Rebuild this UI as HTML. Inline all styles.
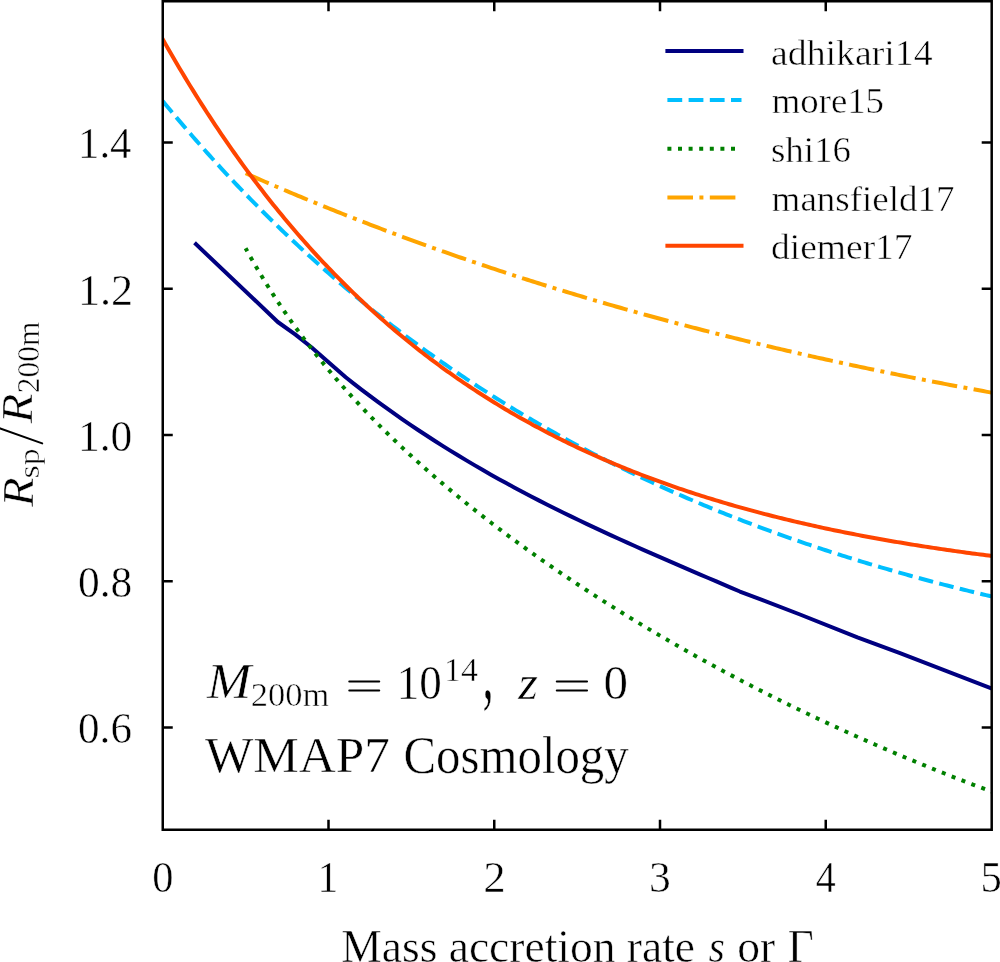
<!DOCTYPE html>
<html><head><meta charset="utf-8"><style>
html,body{margin:0;padding:0;background:#fff;overflow:hidden;}
svg{display:block;font-kerning:none;will-change:transform;}
text{font-kerning:none;}
.t{stroke:#fff;stroke-width:0.5px;}
</style></head><body>
<svg width="1000" height="962" viewBox="0 0 1000 962">
<rect width="1000" height="962" fill="#fff"/>
<defs><clipPath id="cp"><rect x="162.75" y="1.25" width="828.95" height="828.5"/></clipPath></defs>
<g clip-path="url(#cp)" fill="none" stroke-width="4" stroke-linejoin="round">
<path d="M196.00,244.20 L277.80,322.00 L295.50,334.60 L311.40,347.20 L345.70,377.30 L353.74,383.62 L361.79,389.82 L369.83,395.90 L377.88,401.87 L385.92,407.71 L393.97,413.44 L402.01,419.07 L410.06,424.58 L418.10,429.99 L426.15,435.29 L434.19,440.50 L442.24,445.61 L450.28,450.63 L458.33,455.55 L466.37,460.39 L474.42,465.14 L482.46,469.80 L490.51,474.39 L498.55,478.90 L506.60,483.33 L514.64,487.69 L522.69,491.98 L530.73,496.21 L538.78,500.37 L546.82,504.46 L554.87,508.50 L562.91,512.49 L570.96,516.42 L579.00,520.30 L587.05,524.13 L595.09,527.92 L603.14,531.66 L611.18,535.37 L619.23,539.04 L627.27,542.67 L635.32,546.28 L643.36,549.85 L651.41,553.40 L659.45,556.93 L667.50,560.43 L675.54,563.92 L683.59,567.39 L691.63,570.85 L699.68,574.31 L707.72,577.75 L715.77,581.19 L723.81,584.63 L731.86,588.07 L739.90,591.51 L800.00,614.50 L857.40,637.40 L900.00,653.20 L991.50,688.50" stroke="#000080" stroke-linecap="square"/>
<path d="M162.75,101.04 L165.51,104.40 L168.28,107.73 L171.04,111.05 L173.80,114.36 L176.56,117.64 L179.32,120.90 L182.09,124.15 L184.85,127.38 L187.61,130.59 L190.38,133.79 L193.14,136.97 L195.90,140.13 L198.66,143.27 L201.43,146.39 L204.19,149.50 L206.95,152.59 L209.71,155.67 L212.47,158.73 L215.24,161.77 L218.00,164.79 L220.76,167.80 L223.53,170.79 L226.29,173.77 L229.05,176.72 L231.81,179.67 L234.57,182.59 L237.34,185.50 L240.10,188.40 L242.86,191.28 L245.62,194.14 L248.39,196.99 L251.15,199.82 L253.91,202.64 L256.68,205.44 L259.44,208.22 L262.20,210.99 L264.96,213.75 L267.73,216.49 L270.49,219.21 L273.25,221.92 L276.01,224.62 L278.77,227.30 L281.54,229.97 L284.30,232.62 L287.06,235.25 L289.82,237.88 L292.59,240.48 L295.35,243.08 L298.11,245.66 L300.88,248.22 L303.64,250.78 L306.40,253.31 L309.16,255.84 L311.93,258.35 L314.69,260.84 L317.45,263.33 L320.21,265.79 L322.98,268.25 L325.74,270.69 L328.50,273.12 L331.26,275.54 L334.02,277.94 L336.79,280.33 L339.55,282.70 L342.31,285.07 L345.08,287.42 L347.84,289.76 L350.60,292.08 L353.36,294.39 L356.12,296.69 L358.89,298.98 L361.65,301.25 L364.41,303.51 L367.18,305.76 L369.94,308.00 L372.70,310.22 L375.46,312.44 L378.23,314.64 L380.99,316.83 L383.75,319.00 L386.51,321.17 L389.27,323.32 L392.04,325.46 L394.80,327.59 L397.56,329.71 L400.32,331.81 L403.09,333.91 L405.85,335.99 L408.61,338.06 L411.38,340.12 L414.14,342.17 L416.90,344.21 L419.66,346.24 L422.43,348.25 L425.19,350.26 L427.95,352.25 L430.71,354.24 L433.48,356.21 L436.24,358.17 L439.00,360.12 L441.76,362.06 L444.52,363.99 L447.29,365.91 L450.05,367.82 L452.81,369.71 L455.57,371.60 L458.34,373.48 L461.10,375.34 L463.86,377.20 L466.62,379.05 L469.39,380.88 L472.15,382.71 L474.91,384.53 L477.68,386.33 L480.44,388.13 L483.20,389.92 L485.96,391.69 L488.72,393.46 L491.49,395.22 L494.25,396.97 L497.01,398.70 L499.77,400.43 L502.54,402.15 L505.30,403.86 L508.06,405.56 L510.82,407.25 L513.59,408.94 L516.35,410.61 L519.11,412.27 L521.88,413.93 L524.64,415.57 L527.40,417.21 L530.16,418.84 L532.92,420.46 L535.69,422.07 L538.45,423.67 L541.21,425.26 L543.97,426.84 L546.74,428.42 L549.50,429.99 L552.26,431.54 L555.02,433.09 L557.79,434.63 L560.55,436.17 L563.31,437.69 L566.08,439.21 L568.84,440.71 L571.60,442.21 L574.36,443.70 L577.12,445.19 L579.89,446.66 L582.65,448.13 L585.41,449.59 L588.17,451.04 L590.94,452.48 L593.70,453.91 L596.46,455.34 L599.23,456.76 L601.99,458.17 L604.75,459.58 L607.51,460.97 L610.28,462.36 L613.04,463.74 L615.80,465.11 L618.56,466.48 L621.33,467.84 L624.09,469.19 L626.85,470.53 L629.61,471.87 L632.38,473.20 L635.14,474.52 L637.90,475.83 L640.66,477.14 L643.42,478.44 L646.19,479.73 L648.95,481.02 L651.71,482.30 L654.48,483.57 L657.24,484.84 L660.00,486.09 L662.76,487.34 L665.52,488.59 L668.29,489.83 L671.05,491.06 L673.81,492.28 L676.58,493.50 L679.34,494.71 L682.10,495.91 L684.86,497.11 L687.62,498.30 L690.39,499.49 L693.15,500.66 L695.91,501.83 L698.67,503.00 L701.44,504.16 L704.20,505.31 L706.96,506.46 L709.73,507.60 L712.49,508.73 L715.25,509.86 L718.01,510.98 L720.77,512.09 L723.54,513.20 L726.30,514.31 L729.06,515.40 L731.82,516.49 L734.59,517.58 L737.35,518.66 L740.11,519.73 L742.88,520.80 L745.64,521.86 L748.40,522.91 L751.16,523.96 L753.92,525.01 L756.69,526.05 L759.45,527.08 L762.21,528.11 L764.98,529.13 L767.74,530.14 L770.50,531.15 L773.26,532.16 L776.02,533.16 L778.79,534.15 L781.55,535.14 L784.31,536.12 L787.08,537.10 L789.84,538.07 L792.60,539.04 L795.36,540.00 L798.12,540.96 L800.89,541.91 L803.65,542.85 L806.41,543.79 L809.17,544.73 L811.94,545.66 L814.70,546.59 L817.46,547.51 L820.23,548.42 L822.99,549.33 L825.75,550.24 L828.51,551.14 L831.27,552.03 L834.04,552.92 L836.80,553.81 L839.56,554.69 L842.32,555.57 L845.09,556.44 L847.85,557.30 L850.61,558.17 L853.38,559.02 L856.14,559.88 L858.90,560.72 L861.66,561.57 L864.42,562.40 L867.19,563.24 L869.95,564.07 L872.71,564.89 L875.48,565.71 L878.24,566.53 L881.00,567.34 L883.76,568.15 L886.52,568.95 L889.29,569.75 L892.05,570.54 L894.81,571.33 L897.58,572.12 L900.34,572.90 L903.10,573.67 L905.86,574.45 L908.62,575.21 L911.39,575.98 L914.15,576.74 L916.91,577.49 L919.67,578.24 L922.44,578.99 L925.20,579.73 L927.96,580.47 L930.72,581.21 L933.49,581.94 L936.25,582.67 L939.01,583.39 L941.77,584.11 L944.54,584.82 L947.30,585.53 L950.06,586.24 L952.83,586.95 L955.59,587.65 L958.35,588.34 L961.11,589.03 L963.88,589.72 L966.64,590.41 L969.40,591.09 L972.16,591.76 L974.93,592.44 L977.69,593.11 L980.45,593.77 L983.21,594.44 L985.98,595.09 L988.74,595.75 L991.50,596.40" stroke="#00BFFF" stroke-linecap="butt" stroke-dasharray="14.7674 6.3859" stroke-dashoffset="0.0"/>
<path d="M245.62,248.27 L248.39,253.26 L251.15,258.17 L253.91,262.99 L256.68,267.74 L259.44,272.41 L262.20,277.01 L264.96,281.53 L267.73,285.99 L270.49,290.38 L273.25,294.70 L276.01,298.95 L278.77,303.15 L281.54,307.28 L284.30,311.36 L287.06,315.38 L289.82,319.34 L292.59,323.25 L295.35,327.11 L298.11,330.92 L300.88,334.68 L303.64,338.38 L306.40,342.05 L309.16,345.66 L311.93,349.24 L314.69,352.76 L317.45,356.25 L320.21,359.70 L322.98,363.10 L325.74,366.47 L328.50,369.80 L331.26,373.10 L334.02,376.35 L336.79,379.58 L339.55,382.77 L342.31,385.92 L345.08,389.04 L347.84,392.14 L350.60,395.20 L353.36,398.23 L356.12,401.23 L358.89,404.20 L361.65,407.15 L364.41,410.07 L367.18,412.96 L369.94,415.83 L372.70,418.67 L375.46,421.48 L378.23,424.28 L380.99,427.04 L383.75,429.79 L386.51,432.51 L389.27,435.21 L392.04,437.89 L394.80,440.55 L397.56,443.19 L400.32,445.80 L403.09,448.40 L405.85,450.98 L408.61,453.54 L411.38,456.08 L414.14,458.60 L416.90,461.11 L419.66,463.59 L422.43,466.06 L425.19,468.51 L427.95,470.95 L430.71,473.37 L433.48,475.77 L436.24,478.16 L439.00,480.54 L441.76,482.89 L444.52,485.24 L447.29,487.57 L450.05,489.88 L452.81,492.18 L455.57,494.47 L458.34,496.74 L461.10,499.00 L463.86,501.24 L466.62,503.48 L469.39,505.70 L472.15,507.91 L474.91,510.10 L477.68,512.29 L480.44,514.46 L483.20,516.62 L485.96,518.77 L488.72,520.90 L491.49,523.03 L494.25,525.14 L497.01,527.25 L499.77,529.34 L502.54,531.42 L505.30,533.49 L508.06,535.55 L510.82,537.60 L513.59,539.64 L516.35,541.67 L519.11,543.69 L521.88,545.70 L524.64,547.70 L527.40,549.69 L530.16,551.67 L532.92,553.65 L535.69,555.61 L538.45,557.56 L541.21,559.51 L543.97,561.44 L546.74,563.37 L549.50,565.29 L552.26,567.20 L555.02,569.10 L557.79,570.99 L560.55,572.87 L563.31,574.75 L566.08,576.62 L568.84,578.48 L571.60,580.33 L574.36,582.17 L577.12,584.00 L579.89,585.83 L582.65,587.65 L585.41,589.46 L588.17,591.26 L590.94,593.06 L593.70,594.85 L596.46,596.63 L599.23,598.40 L601.99,600.17 L604.75,601.93 L607.51,603.68 L610.28,605.42 L613.04,607.16 L615.80,608.89 L618.56,610.61 L621.33,612.32 L624.09,614.03 L626.85,615.73 L629.61,617.43 L632.38,619.12 L635.14,620.80 L637.90,622.47 L640.66,624.14 L643.42,625.80 L646.19,627.45 L648.95,629.10 L651.71,630.74 L654.48,632.38 L657.24,634.00 L660.00,635.62 L662.76,637.24 L665.52,638.85 L668.29,640.45 L671.05,642.05 L673.81,643.64 L676.58,645.22 L679.34,646.80 L682.10,648.37 L684.86,649.93 L687.62,651.49 L690.39,653.05 L693.15,654.59 L695.91,656.13 L698.67,657.67 L701.44,659.20 L704.20,660.72 L706.96,662.24 L709.73,663.75 L712.49,665.26 L715.25,666.76 L718.01,668.25 L720.77,669.74 L723.54,671.22 L726.30,672.70 L729.06,674.17 L731.82,675.64 L734.59,677.10 L737.35,678.55 L740.11,680.00 L742.88,681.45 L745.64,682.89 L748.40,684.32 L751.16,685.75 L753.92,687.17 L756.69,688.59 L759.45,690.00 L762.21,691.40 L764.98,692.81 L767.74,694.20 L770.50,695.59 L773.26,696.98 L776.02,698.36 L778.79,699.73 L781.55,701.10 L784.31,702.47 L787.08,703.82 L789.84,705.18 L792.60,706.53 L795.36,707.87 L798.12,709.21 L800.89,710.55 L803.65,711.87 L806.41,713.20 L809.17,714.52 L811.94,715.83 L814.70,717.14 L817.46,718.45 L820.23,719.75 L822.99,721.04 L825.75,722.33 L828.51,723.62 L831.27,724.90 L834.04,726.17 L836.80,727.44 L839.56,728.71 L842.32,729.97 L845.09,731.23 L847.85,732.48 L850.61,733.73 L853.37,734.97 L856.14,736.21 L858.90,737.44 L861.66,738.67 L864.42,739.89 L867.19,741.11 L869.95,742.33 L872.71,743.54 L875.48,744.75 L878.24,745.95 L881.00,747.15 L883.76,748.34 L886.53,749.53 L889.29,750.71 L892.05,751.89 L894.81,753.07 L897.58,754.24 L900.34,755.41 L903.10,756.57 L905.86,757.73 L908.62,758.88 L911.39,760.03 L914.15,761.17 L916.91,762.32 L919.67,763.45 L922.44,764.59 L925.20,765.71 L927.96,766.84 L930.72,767.96 L933.49,769.07 L936.25,770.19 L939.01,771.29 L941.77,772.40 L944.54,773.50 L947.30,774.59 L950.06,775.69 L952.83,776.77 L955.59,777.86 L958.35,778.94 L961.11,780.01 L963.88,781.08 L966.64,782.15 L969.40,783.21 L972.16,784.27 L974.93,785.33 L977.69,786.38 L980.45,787.43 L983.21,788.47 L985.98,789.51 L988.74,790.55 L991.50,791.58" stroke="#008000" stroke-linecap="butt" stroke-dasharray="3.9912 6.5855" stroke-dashoffset="0.56"/>
<path d="M245.62,173.28 L248.39,174.50 L251.15,175.71 L253.91,176.93 L256.68,178.13 L259.44,179.34 L262.20,180.54 L264.96,181.73 L267.73,182.92 L270.49,184.11 L273.25,185.30 L276.01,186.48 L278.77,187.66 L281.54,188.83 L284.30,190.00 L287.06,191.17 L289.82,192.33 L292.59,193.49 L295.35,194.65 L298.11,195.80 L300.88,196.95 L303.64,198.10 L306.40,199.24 L309.16,200.38 L311.93,201.51 L314.69,202.64 L317.45,203.77 L320.21,204.89 L322.98,206.02 L325.74,207.13 L328.50,208.25 L331.26,209.36 L334.02,210.46 L336.79,211.57 L339.55,212.67 L342.31,213.76 L345.08,214.86 L347.84,215.94 L350.60,217.03 L353.36,218.11 L356.12,219.19 L358.89,220.27 L361.65,221.34 L364.41,222.41 L367.18,223.47 L369.94,224.54 L372.70,225.59 L375.46,226.65 L378.23,227.70 L380.99,228.75 L383.75,229.80 L386.51,230.84 L389.27,231.88 L392.04,232.91 L394.80,233.94 L397.56,234.97 L400.32,236.00 L403.09,237.02 L405.85,238.04 L408.61,239.05 L411.38,240.07 L414.14,241.08 L416.90,242.08 L419.66,243.08 L422.43,244.08 L425.19,245.08 L427.95,246.07 L430.71,247.06 L433.48,248.05 L436.24,249.03 L439.00,250.01 L441.76,250.99 L444.52,251.96 L447.29,252.93 L450.05,253.90 L452.81,254.86 L455.57,255.82 L458.34,256.78 L461.10,257.74 L463.86,258.69 L466.62,259.64 L469.39,260.58 L472.15,261.53 L474.91,262.46 L477.68,263.40 L480.44,264.33 L483.20,265.26 L485.96,266.19 L488.72,267.12 L491.49,268.04 L494.25,268.95 L497.01,269.87 L499.77,270.78 L502.54,271.69 L505.30,272.60 L508.06,273.50 L510.82,274.40 L513.59,275.30 L516.35,276.19 L519.11,277.08 L521.88,277.97 L524.64,278.85 L527.40,279.74 L530.16,280.61 L532.92,281.49 L535.69,282.36 L538.45,283.24 L541.21,284.10 L543.97,284.97 L546.74,285.83 L549.50,286.69 L552.26,287.54 L555.02,288.40 L557.79,289.25 L560.55,290.10 L563.31,290.94 L566.08,291.78 L568.84,292.62 L571.60,293.46 L574.36,294.29 L577.12,295.12 L579.89,295.95 L582.65,296.77 L585.41,297.60 L588.17,298.42 L590.94,299.23 L593.70,300.05 L596.46,300.86 L599.23,301.67 L601.99,302.47 L604.75,303.28 L607.51,304.08 L610.28,304.87 L613.04,305.67 L615.80,306.46 L618.56,307.25 L621.33,308.04 L624.09,308.82 L626.85,309.60 L629.61,310.38 L632.38,311.16 L635.14,311.93 L637.90,312.71 L640.66,313.47 L643.42,314.24 L646.19,315.00 L648.95,315.76 L651.71,316.52 L654.48,317.28 L657.24,318.03 L660.00,318.78 L662.76,319.53 L665.52,320.28 L668.29,321.02 L671.05,321.76 L673.81,322.50 L676.58,323.23 L679.34,323.96 L682.10,324.69 L684.86,325.42 L687.62,326.15 L690.39,326.87 L693.15,327.59 L695.91,328.31 L698.67,329.02 L701.44,329.74 L704.20,330.45 L706.96,331.16 L709.73,331.86 L712.49,332.57 L715.25,333.27 L718.01,333.97 L720.77,334.66 L723.54,335.36 L726.30,336.05 L729.06,336.74 L731.82,337.42 L734.59,338.11 L737.35,338.79 L740.11,339.47 L742.88,340.15 L745.64,340.82 L748.40,341.49 L751.16,342.17 L753.92,342.83 L756.69,343.50 L759.45,344.16 L762.21,344.82 L764.98,345.48 L767.74,346.14 L770.50,346.80 L773.26,347.45 L776.02,348.10 L778.79,348.75 L781.55,349.39 L784.31,350.04 L787.08,350.68 L789.84,351.32 L792.60,351.95 L795.36,352.59 L798.12,353.22 L800.89,353.85 L803.65,354.48 L806.41,355.11 L809.17,355.73 L811.94,356.35 L814.70,356.97 L817.46,357.59 L820.23,358.20 L822.99,358.82 L825.75,359.43 L828.51,360.04 L831.27,360.65 L834.04,361.25 L836.80,361.85 L839.56,362.46 L842.32,363.06 L845.09,363.65 L847.85,364.25 L850.61,364.84 L853.37,365.43 L856.14,366.02 L858.90,366.61 L861.66,367.19 L864.42,367.78 L867.19,368.36 L869.95,368.94 L872.71,369.51 L875.48,370.09 L878.24,370.66 L881.00,371.23 L883.76,371.80 L886.53,372.37 L889.29,372.94 L892.05,373.50 L894.81,374.06 L897.58,374.62 L900.34,375.18 L903.10,375.74 L905.86,376.29 L908.62,376.84 L911.39,377.39 L914.15,377.94 L916.91,378.49 L919.67,379.03 L922.44,379.58 L925.20,380.12 L927.96,380.66 L930.72,381.20 L933.49,381.73 L936.25,382.27 L939.01,382.80 L941.77,383.33 L944.54,383.86 L947.30,384.39 L950.06,384.91 L952.83,385.44 L955.59,385.96 L958.35,386.48 L961.11,387.00 L963.88,387.52 L966.64,388.03 L969.40,388.55 L972.16,389.06 L974.93,389.57 L977.69,390.08 L980.45,390.59 L983.21,391.09 L985.98,391.60 L988.74,392.10 L991.50,392.60" stroke="#FFA500" stroke-linecap="butt" stroke-dasharray="25.5437 6.3859 3.9912 6.3859" stroke-dashoffset="0.37"/>
<path d="M162.75,39.22 L165.51,44.11 L168.28,48.95 L171.04,53.76 L173.80,58.51 L176.56,63.23 L179.32,67.91 L182.09,72.54 L184.85,77.13 L187.61,81.69 L190.38,86.20 L193.14,90.67 L195.90,95.11 L198.66,99.50 L201.43,103.86 L204.19,108.18 L206.95,112.46 L209.71,116.70 L212.47,120.91 L215.24,125.08 L218.00,129.21 L220.76,133.30 L223.53,137.36 L226.29,141.39 L229.05,145.38 L231.81,149.33 L234.57,153.25 L237.34,157.13 L240.10,160.98 L242.86,164.80 L245.62,168.58 L248.39,172.33 L251.15,176.05 L253.91,179.73 L256.68,183.39 L259.44,187.01 L262.20,190.59 L264.96,194.15 L267.73,197.67 L270.49,201.17 L273.25,204.63 L276.01,208.06 L278.77,211.47 L281.54,214.84 L284.30,218.18 L287.06,221.50 L289.82,224.78 L292.59,228.04 L295.35,231.26 L298.11,234.46 L300.88,237.63 L303.64,240.78 L306.40,243.89 L309.16,246.98 L311.93,250.04 L314.69,253.07 L317.45,256.08 L320.21,259.06 L322.98,262.02 L325.74,264.95 L328.50,267.85 L331.26,270.73 L334.02,273.58 L336.79,276.40 L339.55,279.21 L342.31,281.98 L345.08,284.74 L347.84,287.47 L350.60,290.17 L353.36,292.85 L356.12,295.51 L358.89,298.14 L361.65,300.76 L364.41,303.34 L367.18,305.91 L369.94,308.45 L372.70,310.97 L375.46,313.47 L378.23,315.95 L380.99,318.40 L383.75,320.83 L386.51,323.25 L389.27,325.64 L392.04,328.01 L394.80,330.35 L397.56,332.68 L400.32,334.99 L403.09,337.28 L405.85,339.54 L408.61,341.79 L411.38,344.02 L414.14,346.23 L416.90,348.42 L419.66,350.59 L422.43,352.74 L425.19,354.87 L427.95,356.98 L430.71,359.07 L433.48,361.15 L436.24,363.21 L439.00,365.25 L441.76,367.27 L444.52,369.27 L447.29,371.26 L450.05,373.23 L452.81,375.18 L455.57,377.11 L458.34,379.03 L461.10,380.93 L463.86,382.81 L466.62,384.68 L469.39,386.53 L472.15,388.36 L474.91,390.18 L477.68,391.98 L480.44,393.77 L483.20,395.54 L485.96,397.30 L488.72,399.04 L491.49,400.76 L494.25,402.47 L497.01,404.16 L499.77,405.84 L502.54,407.51 L505.30,409.16 L508.06,410.79 L510.82,412.42 L513.59,414.02 L516.35,415.62 L519.11,417.19 L521.88,418.76 L524.64,420.31 L527.40,421.85 L530.16,423.37 L532.92,424.88 L535.69,426.38 L538.45,427.86 L541.21,429.33 L543.97,430.79 L546.74,432.24 L549.50,433.67 L552.26,435.09 L555.02,436.50 L557.79,437.89 L560.55,439.28 L563.31,440.65 L566.08,442.01 L568.84,443.35 L571.60,444.69 L574.36,446.01 L577.12,447.32 L579.89,448.62 L582.65,449.91 L585.41,451.19 L588.17,452.46 L590.94,453.71 L593.70,454.95 L596.46,456.19 L599.23,457.41 L601.99,458.62 L604.75,459.82 L607.51,461.01 L610.28,462.19 L613.04,463.36 L615.80,464.52 L618.56,465.67 L621.33,466.81 L624.09,467.94 L626.85,469.06 L629.61,470.17 L632.38,471.26 L635.14,472.35 L637.90,473.43 L640.66,474.51 L643.42,475.57 L646.19,476.62 L648.95,477.66 L651.71,478.69 L654.48,479.72 L657.24,480.73 L660.00,481.74 L662.76,482.74 L665.52,483.73 L668.29,484.71 L671.05,485.68 L673.81,486.64 L676.58,487.60 L679.34,488.54 L682.10,489.48 L684.86,490.41 L687.62,491.33 L690.39,492.25 L693.15,493.15 L695.91,494.05 L698.67,494.94 L701.44,495.82 L704.20,496.69 L706.96,497.56 L709.73,498.42 L712.49,499.27 L715.25,500.11 L718.01,500.95 L720.77,501.78 L723.54,502.60 L726.30,503.41 L729.06,504.22 L731.82,505.02 L734.59,505.81 L737.35,506.60 L740.11,507.38 L742.88,508.15 L745.64,508.92 L748.40,509.68 L751.16,510.43 L753.92,511.17 L756.69,511.91 L759.45,512.65 L762.21,513.37 L764.98,514.09 L767.74,514.80 L770.50,515.51 L773.26,516.21 L776.02,516.91 L778.79,517.60 L781.55,518.28 L784.31,518.96 L787.08,519.63 L789.84,520.29 L792.60,520.95 L795.36,521.60 L798.12,522.25 L800.89,522.89 L803.65,523.53 L806.41,524.16 L809.17,524.78 L811.94,525.40 L814.70,526.02 L817.46,526.62 L820.23,527.23 L822.99,527.83 L825.75,528.42 L828.51,529.01 L831.27,529.59 L834.04,530.17 L836.80,530.74 L839.56,531.30 L842.32,531.87 L845.09,532.42 L847.85,532.98 L850.61,533.52 L853.38,534.07 L856.14,534.60 L858.90,535.14 L861.66,535.67 L864.42,536.19 L867.19,536.71 L869.95,537.22 L872.71,537.73 L875.48,538.24 L878.24,538.74 L881.00,539.24 L883.76,539.73 L886.52,540.22 L889.29,540.70 L892.05,541.18 L894.81,541.66 L897.58,542.13 L900.34,542.59 L903.10,543.06 L905.86,543.52 L908.62,543.97 L911.39,544.42 L914.15,544.87 L916.91,545.31 L919.67,545.75 L922.44,546.19 L925.20,546.62 L927.96,547.04 L930.72,547.47 L933.49,547.89 L936.25,548.30 L939.01,548.72 L941.77,549.13 L944.54,549.53 L947.30,549.93 L950.06,550.33 L952.83,550.73 L955.59,551.12 L958.35,551.51 L961.11,551.89 L963.88,552.27 L966.64,552.65 L969.40,553.02 L972.16,553.40 L974.93,553.76 L977.69,554.13 L980.45,554.49 L983.21,554.85 L985.98,555.20 L988.74,555.56 L991.50,555.90" stroke="#FF4500" stroke-linecap="square"/>
</g>
<rect x="162.75" y="1.25" width="828.95" height="828.50" fill="none" stroke="#000" stroke-width="2.5" stroke-linejoin="miter"/>
<path d="M328.50,829.75V819.75M328.50,1.25V11.25M494.25,829.75V819.75M494.25,1.25V11.25M660.00,829.75V819.75M660.00,1.25V11.25M825.75,829.75V819.75M825.75,1.25V11.25M162.75,142.55H172.75M991.70,142.55H981.70M162.75,288.80H172.75M991.70,288.80H981.70M162.75,435.05H172.75M991.70,435.05H981.70M162.75,581.30H172.75M991.70,581.30H981.70M162.75,727.55H172.75M991.70,727.55H981.70" stroke="#000" stroke-width="2.5" fill="none"/>
<path d="M667.4,51.0H741.5" stroke="#000080" stroke-width="4" stroke-linecap="square" fill="none"/>
<path d="M667.4,100.0H741.5" stroke="#00BFFF" stroke-width="4" stroke-linecap="butt" fill="none" stroke-dasharray="14.8 6.4"/>
<path d="M667.4,148.7H741.5" stroke="#008000" stroke-width="4" stroke-linecap="butt" fill="none" stroke-dasharray="4 6.6"/>
<path d="M667.4,197.4H741.5" stroke="#FFA500" stroke-width="4" stroke-linecap="butt" fill="none" stroke-dasharray="25.6 6.4 4 6.4"/>
<path d="M667.4,245.8H741.5" stroke="#FF4500" stroke-width="4" stroke-linecap="square" fill="none"/>
<text transform="translate(78.04,158.25) scale(0.9565,1)" style="font-family:'Liberation Serif', serif;font-size:44.68px;" fill="#000" class="t" >1.4</text>
<text transform="translate(77.92,304.50) scale(0.9886,1)" style="font-family:'Liberation Serif', serif;font-size:44.68px;" fill="#000" class="t" >1.2</text>
<text transform="translate(77.98,450.75) scale(0.9736,1)" style="font-family:'Liberation Serif', serif;font-size:44.68px;" fill="#000" class="t" >1.0</text>
<text transform="translate(78.05,597.00) scale(0.9723,1)" style="font-family:'Liberation Serif', serif;font-size:44.68px;" fill="#000" class="t" >0.8</text>
<text transform="translate(78.06,743.25) scale(0.9655,1)" style="font-family:'Liberation Serif', serif;font-size:44.68px;" fill="#000" class="t" >0.6</text>
<text transform="translate(152.13,891.60) scale(0.9635,1)" style="font-family:'Liberation Serif', serif;font-size:44.08px;" fill="#000" class="t" >0</text>
<text transform="translate(317.56,891.60) scale(0.9409,1)" style="font-family:'Liberation Serif', serif;font-size:44.08px;" fill="#000" class="t" >1</text>
<text transform="translate(483.28,891.60) scale(1.0187,1)" style="font-family:'Liberation Serif', serif;font-size:44.08px;" fill="#000" class="t" >2</text>
<text transform="translate(648.91,891.60) scale(0.9886,1)" style="font-family:'Liberation Serif', serif;font-size:44.08px;" fill="#000" class="t" >3</text>
<text transform="translate(815.67,891.60) scale(0.9078,1)" style="font-family:'Liberation Serif', serif;font-size:44.08px;" fill="#000" class="t" >4</text>
<text transform="translate(980.42,891.60) scale(0.9687,1)" style="font-family:'Liberation Serif', serif;font-size:44.08px;" fill="#000" class="t" >5</text>
<text transform="translate(341.29,962.20) scale(1.0000,1)" style="font-family:'Liberation Serif', serif;font-size:45.51px;" fill="#000" class="t" >Mass accretion rate</text>
<text transform="translate(708.49,962.20) scale(0.9205,1)" style="font-family:'Liberation Serif', serif;font-size:45.75px;font-style:italic;" fill="#000" class="t" >s</text>
<text transform="translate(737.27,962.20) scale(0.9954,1)" style="font-family:'Liberation Serif', serif;font-size:45.75px;" fill="#000" class="t" >or</text>
<text transform="translate(787.71,962.20) scale(0.9859,1)" style="font-family:'Liberation Serif', serif;font-size:45.51px;" fill="#000" class="t" >Γ</text>
<text transform="translate(771.07,64.60) scale(1.0656,1)" style="font-family:'Liberation Serif', serif;font-size:35.44px;" fill="#000" class="t" >adhikari14</text>
<text transform="translate(771.63,113.20) scale(1.0382,1)" style="font-family:'Liberation Serif', serif;font-size:35.44px;" fill="#000" class="t" >more15</text>
<text transform="translate(770.89,161.80) scale(1.0418,1)" style="font-family:'Liberation Serif', serif;font-size:35.44px;" fill="#000" class="t" >shi16</text>
<text transform="translate(771.62,210.60) scale(1.0447,1)" style="font-family:'Liberation Serif', serif;font-size:35.44px;" fill="#000" class="t" >mansfield17</text>
<text transform="translate(771.04,259.00) scale(1.0582,1)" style="font-family:'Liberation Serif', serif;font-size:35.44px;" fill="#000" class="t" >diemer17</text>
<text transform="translate(207.02,698.40) scale(1.0497,1)" style="font-family:'Liberation Serif', serif;font-size:50.70px;font-style:italic;" fill="#000" class="t" >M</text>
<text transform="translate(250.68,706.00) scale(1.0087,1)" style="font-family:'Liberation Serif', serif;font-size:34.23px;" fill="#000" class="t" >200m</text>
<text transform="translate(396.84,698.80) scale(0.9300,1)" style="font-family:'Liberation Serif', serif;font-size:48.47px;" fill="#000" class="t" >10</text>
<text transform="translate(444.02,681.00) scale(0.9994,1)" style="font-family:'Liberation Serif', serif;font-size:33.93px;" fill="#000" class="t" >14</text>
<text transform="translate(482.51,699.30) scale(0.5372,1)" style="font-family:'Liberation Serif', serif;font-size:82.50px;" fill="#000" class="t" >,</text>
<text transform="translate(518.37,699.00) scale(1.0561,1)" style="font-family:'Liberation Serif', serif;font-size:47.93px;font-style:italic;" fill="#000" class="t" >z</text>
<text transform="translate(603.53,698.90) scale(1.0125,1)" style="font-family:'Liberation Serif', serif;font-size:48.47px;" fill="#000" class="t" >0</text>
<text transform="translate(204.95,772.40) scale(0.9985,1)" style="font-family:'Liberation Serif', serif;font-size:51.31px;" fill="#000" class="t" >WMAP7</text>
<text transform="translate(403.50,772.60) scale(0.9408,1)" style="font-family:'Liberation Serif', serif;font-size:51.92px;" fill="#000" class="t" >Cosmology</text>
<line x1="349.3" y1="681.5" x2="379.2" y2="681.5" stroke="#000" stroke-width="2.1" stroke-linecap="round"/><line x1="349.3" y1="690.55" x2="379.2" y2="690.55" stroke="#000" stroke-width="2.1" stroke-linecap="round"/><line x1="556.8" y1="681.5" x2="587.0" y2="681.5" stroke="#000" stroke-width="2.1" stroke-linecap="round"/><line x1="556.8" y1="690.55" x2="587.0" y2="690.55" stroke="#000" stroke-width="2.1" stroke-linecap="round"/>
<g transform="rotate(-90)"><text transform="translate(-506.74,32.60) scale(1.0698,1)" style="font-family:'Liberation Serif', serif;font-size:44.90px;font-style:italic;" fill="#000" class="t" >R</text><text transform="translate(-478.39,39.20) scale(1.1430,1)" style="font-family:'Liberation Serif', serif;font-size:29.63px;" fill="#000" class="t" >sp</text><text transform="translate(-423.24,32.20) scale(1.0920,1)" style="font-family:'Liberation Serif', serif;font-size:44.59px;font-style:italic;" fill="#000" class="t" >R</text><text transform="translate(-393.18,39.40) scale(1.0084,1)" style="font-family:'Liberation Serif', serif;font-size:31.20px;" fill="#000" class="t" >200m</text><line x1="-443.4" y1="42.2" x2="-428.4" y2="0.2" stroke="#000" stroke-width="2.0" stroke-linecap="round"/></g>
</svg>
</body></html>
